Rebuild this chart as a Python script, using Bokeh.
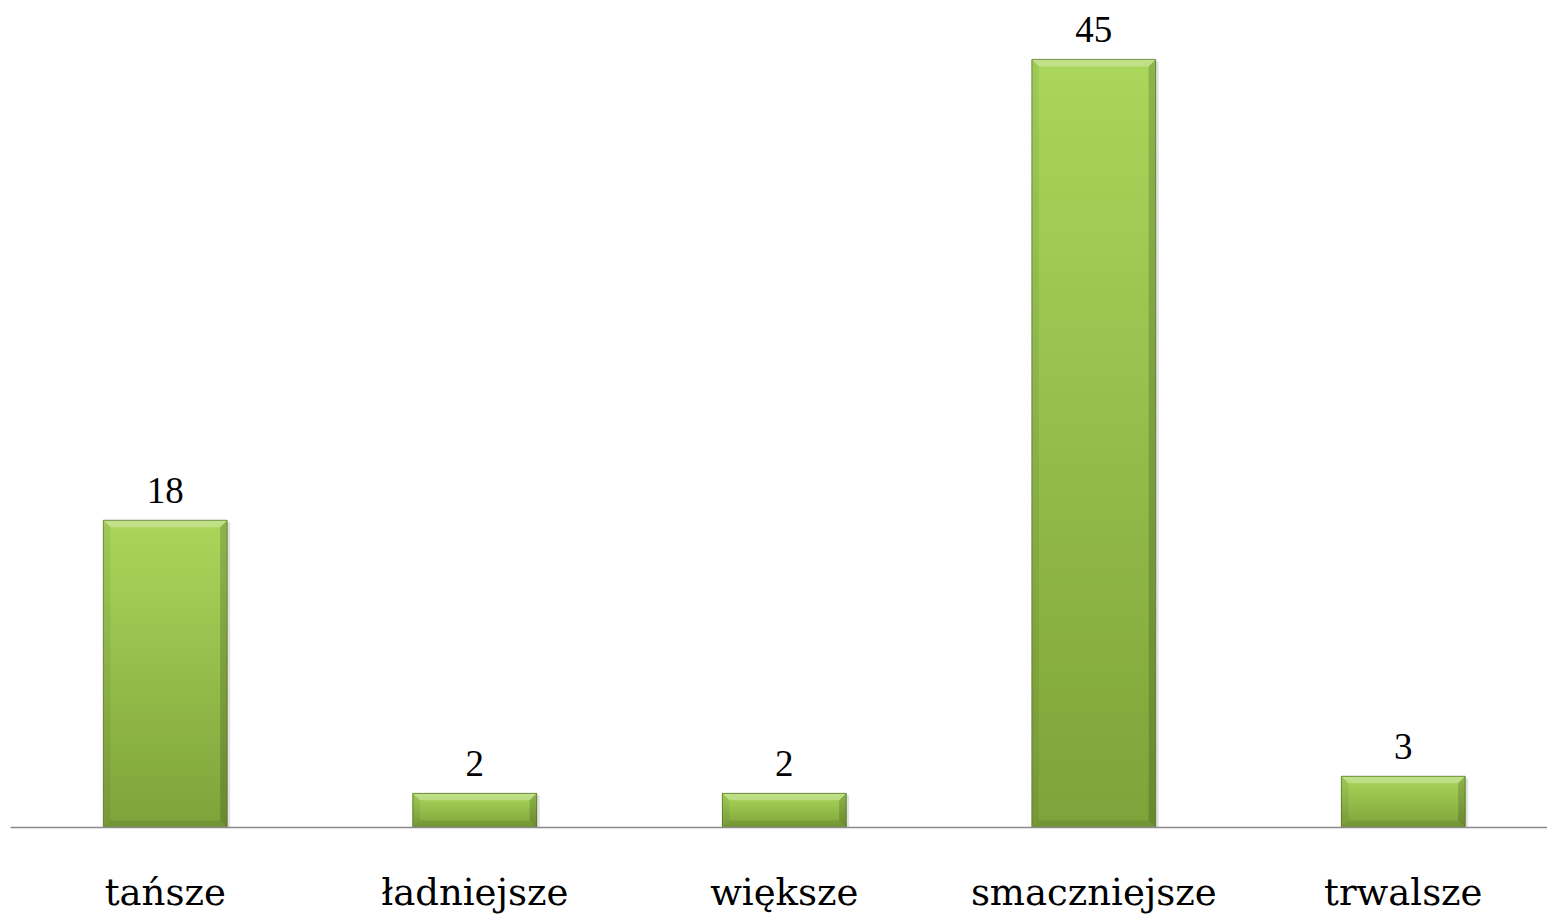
from bokeh.plotting import figure
from bokeh.models import Range1d, FixedTicker, ColumnDataSource, LabelSet
from bokeh.embed import file_html
from bokeh.resources import INLINE

# Survey answers: counts per category
categories = ["tańsze", "ładniejsze", "większe", "smaczniejsze", "trwalsze"]
counts = [18, 2, 2, 45, 3]

FONT = "DejaVu Serif"
TOP_COLOR = (0xAA, 0xD6, 0x5B)
BOTTOM_COLOR = (0x7E, 0xA3, 0x3A)
BAR_W = 0.4
N_SLICES = 60

p = figure(width=1547, height=916, output_backend="svg", toolbar_location=None,
           x_range=Range1d(-0.5, 4.466), y_range=Range1d(0, 48.45),
           min_border_left=10, min_border_right=0, min_border_top=0,
           min_border_bottom=89)
p.outline_line_color = None
p.xgrid.visible = False
p.ygrid.visible = False
p.yaxis.visible = False
p.background_fill_color = "white"
p.border_fill_color = "white"

xs = list(range(len(categories)))

# pixel scale of the frame (used for bevel and shadow sizes)
px_x = (4.466 + 0.5) / 1537.0
px_y = 48.45 / 827.0

# soft drop shadow
p.quad(left=[x - BAR_W / 2 + 2 * px_x for x in xs],
       right=[x + BAR_W / 2 + 3 * px_x for x in xs],
       bottom=[-4 * px_y] * len(xs),
       top=[v - 2 * px_y for v in counts],
       fill_color="#9a9a9a", fill_alpha=0.3, line_color=None)

# vertical gradient body of each bar (overlapping slices hide seams)
ql, qr, qb, qt, qc = [], [], [], [], []
for x, v in zip(xs, counts):
    for i in range(N_SLICES):
        f0 = i / N_SLICES
        f1 = (i + 1) / N_SLICES
        t = (f0 + f1) / 2
        rgb = tuple(int(round(b + (a - b) * t)) for a, b in zip(TOP_COLOR, BOTTOM_COLOR))
        ql.append(x - BAR_W / 2)
        qr.append(x + BAR_W / 2)
        qb.append(v * f0)
        qt.append(min(v, v * f1 + 2 * px_y) if i < N_SLICES - 1 else v)
        qc.append("#%02x%02x%02x" % rgb)
# draw from top slice downwards so each lower slice overlaps the one above
order = []
for b in range(len(xs)):
    order += [b * N_SLICES + i for i in range(N_SLICES)]
p.quad(left=[ql[k] for k in order], right=[qr[k] for k in order],
       bottom=[qb[k] for k in order], top=[qt[k] for k in order],
       fill_color=[qc[k] for k in order], line_color=None)

# bevelled edges
bx = 7 * px_x
by = 7 * px_y
top_x, top_y, right_x, right_y, left_x, left_y, bot_x, bot_y = ([] for _ in range(8))
for x, v in zip(xs, counts):
    l, r = x - BAR_W / 2, x + BAR_W / 2
    d = min(by, v / 2)
    top_x.append([l, r, r - bx, l + bx]); top_y.append([v, v, v - d, v - d])
    right_x.append([r, r, r - bx, r - bx]); right_y.append([v, 0, d, v - d])
    left_x.append([l, l, l + bx, l + bx]); left_y.append([v, 0, d, v - d])
    bot_x.append([l, r, r - bx, l + bx]); bot_y.append([0, 0, d, d])
p.patches(top_x, top_y, fill_color="white", fill_alpha=0.28, line_color=None)
p.patches(right_x, right_y, fill_color="black", fill_alpha=0.16, line_color=None)
p.patches(left_x, left_y, fill_color="black", fill_alpha=0.06, line_color=None)
p.patches(bot_x, bot_y, fill_color="black", fill_alpha=0.09, line_color=None)

# thin dark outline
p.quad(left=[x - BAR_W / 2 for x in xs], right=[x + BAR_W / 2 for x in xs],
       bottom=[0] * len(xs), top=counts, fill_color=None,
       line_color="#4f6e22", line_width=1, line_alpha=0.75)

# value labels above bars
src = ColumnDataSource(dict(x=xs, y=counts, t=[str(c) for c in counts]))
p.add_layout(LabelSet(x="x", y="y", text="t", source=src, text_align="center",
                      text_baseline="alphabetic", y_offset=17,
                      text_font=FONT, text_font_size="37px", text_color="black"))

# category axis
ax = p.xaxis[0]
ax.ticker = FixedTicker(ticks=xs)
ax.major_label_overrides = {i: c for i, c in enumerate(categories)}
ax.major_tick_line_color = None
ax.minor_tick_line_color = None
ax.axis_line_color = "#8a8a8a"
ax.axis_line_width = 1.5
ax.major_label_standoff = 37
ax.major_label_text_font = FONT
ax.major_label_text_font_size = "37px"
ax.major_label_text_color = "black"

open("out.html", "w").write(file_html(p, INLINE))
